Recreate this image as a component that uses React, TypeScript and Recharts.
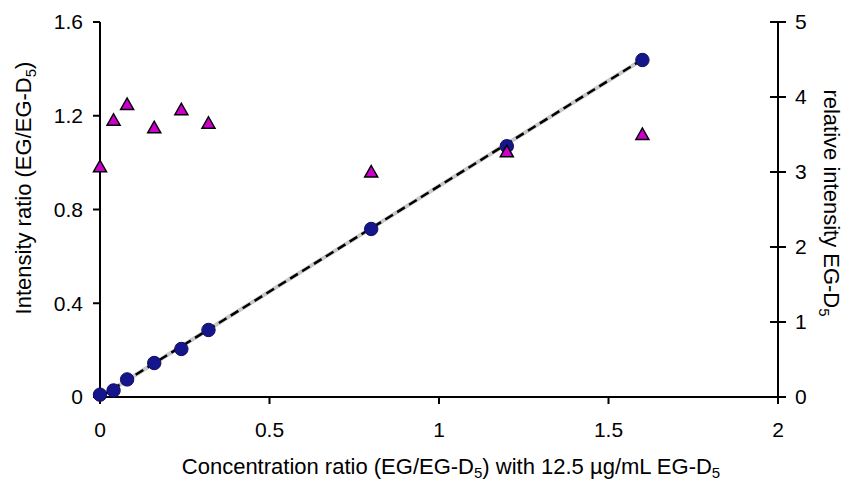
import React from "react";
import { ScatterChart, Scatter, XAxis, YAxis } from "recharts";

const concRatio = [0, 0.04, 0.08, 0.16, 0.24, 0.32, 0.8, 1.2, 1.6];
const intensityRatio = [0.01, 0.028, 0.075, 0.145, 0.205, 0.286, 0.717, 1.07, 1.438];
const relIntensity = [3.07, 3.69, 3.9, 3.59, 3.83, 3.65, 3.0, 3.27, 3.5];
const trendX = [0, 1.6];
const trendY = [0, 1.44];

const xTicks = [0, 0.5, 1, 1.5, 2];
const leftTicks = [0, 0.4, 0.8, 1.2, 1.6];
const rightTicks = [0, 1, 2, 3, 4, 5];

const ratioData = concRatio.map((x, i) => ({ x, y: intensityRatio[i] }));
const relData = concRatio.map((x, i) => ({ x, y: relIntensity[i] }));
const trendData = trendX.map((x, i) => ({ x, y: trendY[i] }));

const FONT = "'Liberation Sans', Arial, sans-serif";
const tickStyle = { fontSize: 21, fill: "#000", fontFamily: FONT };

function Dot(props: any) {
  const { cx, cy } = props;
  return <circle cx={cx} cy={cy} r={6.7} fill="#16168c" stroke="#0d0d5e" strokeWidth={1} />;
}

function Tri(props: any) {
  const { cx, cy } = props;
  const s = 6.5;
  return (
    <polygon
      points={`${cx},${cy - s} ${cx + s},${cy + s * 0.75} ${cx - s},${cy + s * 0.75}`}
      fill="#cc00cc"
      stroke="#000"
      strokeWidth={1.5}
    />
  );
}

function Nothing() {
  return <g />;
}

// right axis ticks cross the axis line on both sides
function RightTick(props: any) {
  const { x, y, payload } = props;
  const ax = x - 17;
  return (
    <g>
      <line x1={ax - 8} x2={ax + 8} y1={y} y2={y} stroke="#000" strokeWidth={2} />
      <text x={x} y={y} dy="0.355em" textAnchor="start" fontSize={21} fontFamily={FONT} fill="#000">
        {payload.value}
      </text>
    </g>
  );
}

function XTitle() {
  return (
    <text x={451} y={474} textAnchor="middle" fontSize={22} fontFamily={FONT} fill="#000">
      Concentration ratio (EG/EG-D<tspan dy={4} fontSize={15}>5</tspan>
      <tspan dy={-4}>) with 12.5 µg/mL EG-D</tspan>
      <tspan dy={4} fontSize={15}>5</tspan>
    </text>
  );
}

function LeftTitle() {
  return (
    <text
      x={31}
      y={188}
      textAnchor="middle"
      fontSize={22}
      fontFamily={FONT}
      fill="#000"
      transform="rotate(-90, 31, 188)"
    >
      Intensity ratio (EG/EG-D<tspan dy={5} fontSize={15}>5</tspan>
      <tspan dy={-5}>)</tspan>
    </text>
  );
}

function RightTitle() {
  return (
    <text
      x={824}
      y={203}
      textAnchor="middle"
      fontSize={22}
      fontFamily={FONT}
      fill="#000"
      transform="rotate(90, 824, 203)"
    >
      relative intensity EG-D<tspan dy={5} fontSize={15}>5</tspan>
    </text>
  );
}

export default function App() {
  return (
    <div style={{ position: "absolute", left: 0, top: 0, background: "#fff" }}>
      <ScatterChart width={849} height={483} margin={{ top: 22, right: 0, bottom: 0, left: 0 }}>
        <XAxis
          type="number"
          dataKey="x"
          domain={[0, 2]}
          ticks={xTicks}
          height={86}
          tick={tickStyle}
          tickSize={7}
          tickMargin={18}
          stroke="#000"
          strokeWidth={2}
          label={<XTitle />}
        />
        <YAxis
          yAxisId="left"
          type="number"
          dataKey="y"
          domain={[0, 1.6]}
          ticks={leftTicks}
          width={100}
          tick={tickStyle}
          tickSize={7}
          tickMargin={10}
          stroke="#000"
          strokeWidth={2}
          label={<LeftTitle />}
        />
        <YAxis
          yAxisId="right"
          orientation="right"
          type="number"
          dataKey="y"
          domain={[0, 5]}
          ticks={rightTicks}
          width={71}
          tick={<RightTick />}
          tickLine={false}
          tickSize={6}
          tickMargin={11}
          stroke="#000"
          strokeWidth={2}
          label={<RightTitle />}
        />
        <Scatter
          yAxisId="left"
          data={trendData}
          line={{ stroke: "#c8c8c8", strokeWidth: 4 }}
          shape={<Nothing />}
          isAnimationActive={false}
        />
        <Scatter
          yAxisId="left"
          data={trendData}
          line={{ stroke: "#000", strokeWidth: 2.5, strokeDasharray: "9 5" }}
          shape={<Nothing />}
          isAnimationActive={false}
        />
        <Scatter yAxisId="left" data={ratioData} shape={<Dot />} isAnimationActive={false} />
        <Scatter yAxisId="right" data={relData} shape={<Tri />} isAnimationActive={false} />
      </ScatterChart>
    </div>
  );
}
